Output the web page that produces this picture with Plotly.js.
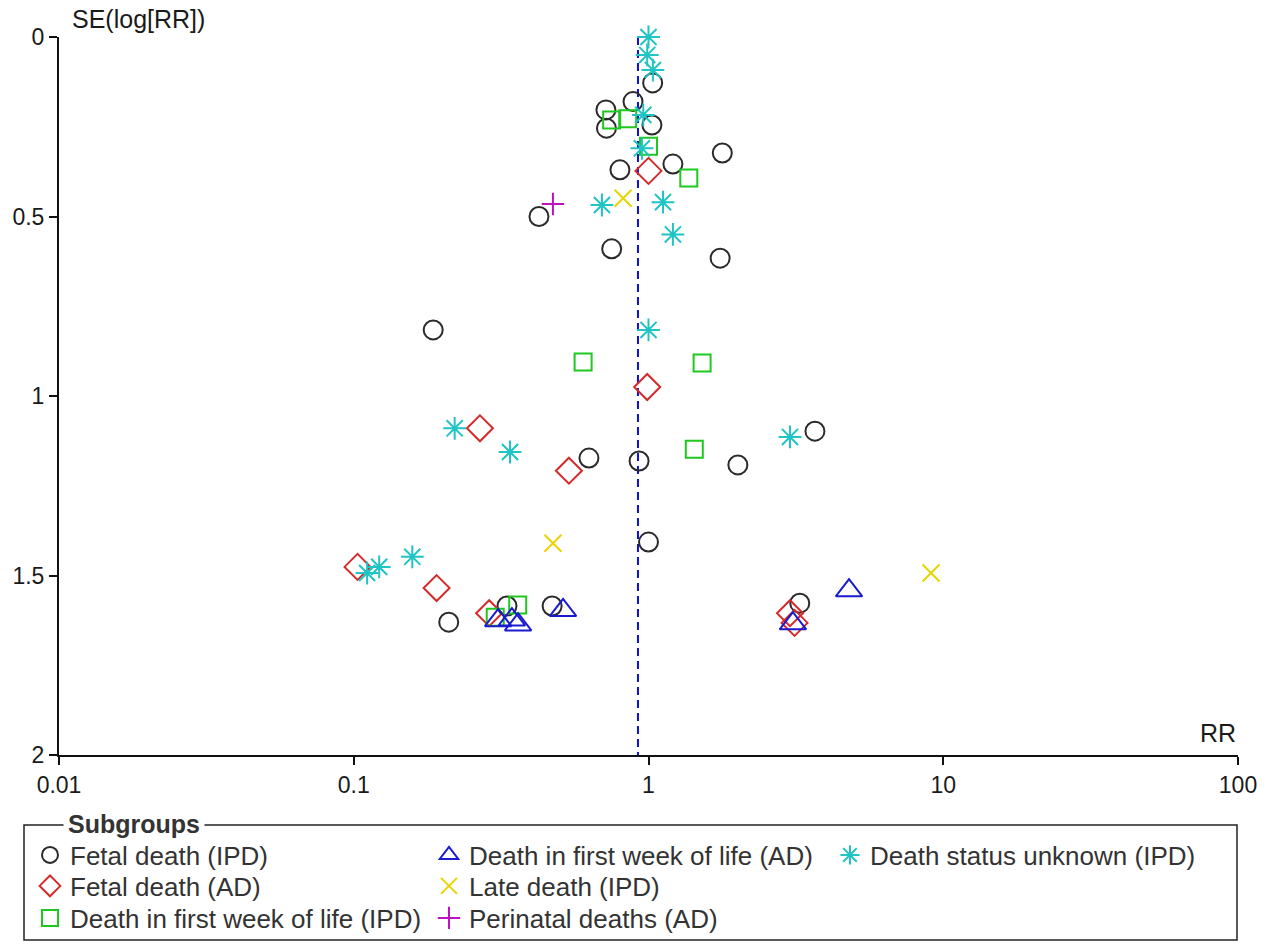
<!DOCTYPE html>
<html>
<head>
<meta charset="utf-8">
<script src="https://cdn.plot.ly/plotly-3.0.1.min.js"></script>
<style>html,body{margin:0;padding:0;background:#fff;}#chart{width:1271px;height:949px;}</style>
</head>
<body>
<div id="chart"></div>
<script>
// ---- data ----
const fetalIPD_rr = [1.033, 0.886, 0.717, 0.72, 1.027, 0.80, 1.21, 1.78, 0.425, 0.75, 1.75, 0.186, 0.628, 0.929, 2.01, 3.67, 1.0, 0.21, 0.331, 0.471, 3.26];
const fetalIPD_se = [0.128, 0.18, 0.203, 0.254, 0.245, 0.37, 0.354, 0.323, 0.50, 0.59, 0.616, 0.816, 1.173, 1.181, 1.192, 1.098, 1.407, 1.63, 1.585, 1.585, 1.577];

const fetalAD_rr = [1.0, 0.99, 0.268, 0.537, 0.103, 0.191, 0.288, 3.02, 3.13];
const fetalAD_se = [0.373, 0.975, 1.09, 1.208, 1.476, 1.535, 1.605, 1.605, 1.632];

const weekIPD_rr = [0.75, 0.85, 1.0, 1.37, 0.60, 1.52, 1.43, 0.36, 0.302];
const weekIPD_se = [0.231, 0.228, 0.304, 0.393, 0.905, 0.908, 1.148, 1.582, 1.616];

const weekAD_rr = [0.309, 0.344, 0.361, 0.513, 4.79, 3.09];
const weekAD_se = [1.625, 1.623, 1.637, 1.597, 1.542, 1.634];

const late_rr = [0.82, 0.474, 9.09];
const late_se = [0.449, 1.41, 1.493];

const perinatal_rr = [0.474];
const perinatal_se = [0.465];

const unknown_rr = [1.0, 0.99, 1.035, 0.96, 0.95, 0.695, 1.12, 1.21, 1.0, 0.22, 0.339, 3.02, 0.158, 0.122, 0.111];
const unknown_se = [0.0, 0.05, 0.092, 0.217, 0.31, 0.468, 0.46, 0.55, 0.816, 1.09, 1.156, 1.114, 1.448, 1.476, 1.493];

const pooledRR = 0.921;
const seRange = [0, 2];

const xTickVals = [0.01, 0.1, 1, 10, 100];
const xTickText = ['0.01', '0.1', '1', '10', '100'];
const yTickVals = [0, 0.5, 1, 1.5, 2];
const yTickText = ['0', '0.5', '1', '1.5', '2'];

const names = ['Fetal death (IPD)', 'Fetal death (AD)', 'Death in first week of life (IPD)',
               'Death in first week of life (AD)', 'Late death (IPD)', 'Perinatal deaths (AD)',
               'Death status unknown (IPD)'];

// ---- styles ----
const FONT = '"Liberation Sans", Arial, sans-serif';

function mk(x, y, name, symbol, color, size, lw, legend) {
  return {
    type: 'scatter', mode: 'markers', x: x, y: y, name: name, legend: legend,
    cliponaxis: false, hoverinfo: 'x+y+name',
    marker: {symbol: symbol, size: size, color: color, line: {color: color, width: lw}}
  };
}

const traces = [
  {type: 'scatter', mode: 'lines', x: [pooledRR, pooledRR], y: seRange, showlegend: false,
   hoverinfo: 'skip', line: {color: '#1010d0', width: 2, dash: '8px,5px'}},
  mk(fetalIPD_rr, fetalIPD_se, names[0], 'circle-open', '#2a2a2a', 19, 2, 'legend'),
  mk(fetalAD_rr, fetalAD_se, names[1], 'diamond-open', '#d42a2a', 20, 2, 'legend2'),
  mk(weekIPD_rr, weekIPD_se, names[2], 'square-open', '#1ec81e', 17, 2, 'legend3'),
  mk(weekAD_rr, weekAD_se, names[3], 'triangle-up-open', '#1a1ad0', 23, 2, 'legend4'),
  mk(late_rr, late_se, names[4], 'x-thin-open', '#e8d400', 17, 2, 'legend5'),
  mk(perinatal_rr, perinatal_se, names[5], 'cross-thin-open', '#c010c0', 16, 2, 'legend6'),
  mk(unknown_rr, unknown_se, names[6], 'asterisk-open', '#20c4c4', 19, 2, 'legend7')
];

const W = 1271, H = 949, L = 59, R = 33, T = 37, B = 194;
const pw = W - L - R, ph = H - T - B;
const px2x = p => (p - L) / pw;
const py2y = p => (H - B - p) / ph;

function leg(xpx, ypx) {
  return {
    font: {family: FONT, size: 26, color: '#333333'},
    bgcolor: 'rgba(0,0,0,0)', borderwidth: 0, orientation: 'v',
    xanchor: 'left', yanchor: 'middle', x: px2x(xpx), y: py2y(ypx)
  };
}
const rowY = [855, 886, 918];
const colX = [30, 429, 830];

const layout = {
  width: W, height: H,
  margin: {l: L, r: R, t: T, b: B, pad: 0, autoexpand: false},
  paper_bgcolor: '#ffffff', plot_bgcolor: '#ffffff',
  font: {family: FONT, size: 23, color: '#1a1a1a'},
  showlegend: true,
  xaxis: {
    type: 'log', range: [-2, 2], tickvals: xTickVals, ticktext: xTickText,
    ticks: 'outside', ticklen: 8, tickwidth: 2, tickcolor: '#111',
    showline: true, linecolor: '#111', linewidth: 2, showgrid: false, zeroline: false,
    tickfont: {family: FONT, size: 23, color: '#1a1a1a'}, fixedrange: true
  },
  xaxis2: {
    type: 'log', range: [-2, 2], tickvals: xTickVals, overlaying: 'x', anchor: 'y', side: 'bottom',
    ticks: 'inside', ticklen: 8, tickwidth: 2, tickcolor: '#111',
    showticklabels: false, showline: false, showgrid: false, zeroline: false, fixedrange: true
  },
  yaxis: {
    range: [2, 0], tickvals: yTickVals, ticktext: yTickText,
    ticks: 'outside', ticklen: 8, tickwidth: 2, tickcolor: '#111',
    showline: true, linecolor: '#111', linewidth: 2, showgrid: false, zeroline: false,
    tickfont: {family: FONT, size: 23, color: '#1a1a1a'}, fixedrange: true
  },
  yaxis2: {
    range: [2, 0], tickvals: yTickVals, overlaying: 'y', anchor: 'x', side: 'left',
    ticks: 'inside', ticklen: 8, tickwidth: 2, tickcolor: '#111',
    showticklabels: false, showline: false, showgrid: false, zeroline: false, fixedrange: true
  },
  legend:  leg(colX[0], rowY[0]),
  legend2: leg(colX[0], rowY[1]),
  legend3: leg(colX[0], rowY[2]),
  legend4: leg(colX[1], rowY[0]),
  legend5: leg(colX[1], rowY[1]),
  legend6: leg(colX[1], rowY[2]),
  legend7: leg(colX[2], rowY[0]),
  shapes: [
    {type: 'rect', xref: 'paper', yref: 'paper', x0: px2x(24), x1: px2x(1237), y0: py2y(940), y1: py2y(825),
     line: {color: '#222', width: 1.5}, fillcolor: 'rgba(0,0,0,0)', layer: 'below'}
  ],
  annotations: [
    {text: 'SE(log[RR])', xref: 'paper', yref: 'paper', x: px2x(70), y: 1, xanchor: 'left', yanchor: 'bottom',
     yshift: 2, showarrow: false, font: {family: FONT, size: 25, color: '#1a1a1a'}},
    {text: 'RR', xref: 'paper', yref: 'paper', x: 1, y: 0, xanchor: 'right', yanchor: 'bottom',
     yshift: 6, showarrow: false, font: {family: FONT, size: 25, color: '#1a1a1a'}},
    {text: '<b>Subgroups</b>', xref: 'paper', yref: 'paper', x: px2x(63), y: py2y(824), xanchor: 'left', yanchor: 'middle',
     showarrow: false, bgcolor: '#ffffff', borderpad: 4, font: {family: FONT, size: 25, color: '#333333'}}
  ]
};

Plotly.newPlot('chart', traces, layout, {displayModeBar: false, staticPlot: true});
</script>
</body>
</html>
